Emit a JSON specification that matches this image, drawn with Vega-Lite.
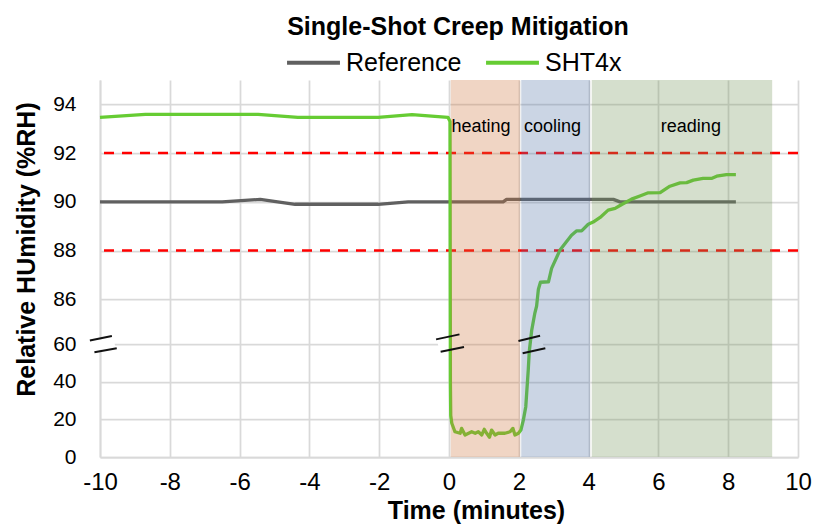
{
  "$schema": "https://vega.github.io/schema/vega-lite/v6.json",
  "width": 698,
  "height": 377,
  "autosize": {"type": "none"},
  "padding": {"left": 100, "top": 80, "right": 16, "bottom": 68},
  "title": {
    "text": "Single-Shot Creep Mitigation",
    "font": "Liberation Sans",
    "fontSize": 25,
    "fontWeight": "bold",
    "color": "#000000",
    "anchor": "middle",
    "baseline": "alphabetic",
    "dx": 9,
    "dy": 34,
    "offset": 8
  },
  "config": {
    "view": {"stroke": null},
    "font": "Liberation Sans",
    "axis": {
      "labelFont": "Liberation Sans",
      "titleFont": "Liberation Sans",
      "labelColor": "#000000",
      "titleColor": "#000000",
      "ticks": false,
      "domainColor": "#d9d9d9",
      "domainWidth": 1.75,
      "gridColor": "#d9d9d9",
      "gridWidth": 1.75,
      "labelOverlap": false,
      "labelFlush": false
    }
  },
  "datasets": {
    "series": [
      {"t": -10, "rh": 90.0, "sensor": "Reference"},
      {"t": -6.5, "rh": 90.0, "sensor": "Reference"},
      {"t": -5.41, "rh": 90.1, "sensor": "Reference"},
      {"t": -4.41, "rh": 89.9, "sensor": "Reference"},
      {"t": -2.03, "rh": 89.9, "sensor": "Reference"},
      {"t": -1.17, "rh": 90.0, "sensor": "Reference"},
      {"t": 1.55, "rh": 90.0, "sensor": "Reference"},
      {"t": 1.65, "rh": 90.1, "sensor": "Reference"},
      {"t": 4.71, "rh": 90.1, "sensor": "Reference"},
      {"t": 4.9, "rh": 90.0, "sensor": "Reference"},
      {"t": 8.22, "rh": 90.0, "sensor": "Reference"},
      {"t": -10, "rh": 93.47, "sensor": "SHT4x"},
      {"t": -8.7, "rh": 93.59, "sensor": "SHT4x"},
      {"t": -5.47, "rh": 93.59, "sensor": "SHT4x"},
      {"t": -4.33, "rh": 93.47, "sensor": "SHT4x"},
      {"t": -2.03, "rh": 93.47, "sensor": "SHT4x"},
      {"t": -1.06, "rh": 93.58, "sensor": "SHT4x"},
      {"t": -0.03, "rh": 93.47, "sensor": "SHT4x"},
      {"t": 0.03, "rh": 93.3, "sensor": "SHT4x"},
      {"t": 0.04, "rh": 40, "sensor": "SHT4x"},
      {"t": 0.05, "rh": 22, "sensor": "SHT4x"},
      {"t": 0.08, "rh": 17.9, "sensor": "SHT4x"},
      {"t": 0.17, "rh": 13.4, "sensor": "SHT4x"},
      {"t": 0.32, "rh": 12.6, "sensor": "SHT4x"},
      {"t": 0.36, "rh": 15.2, "sensor": "SHT4x"},
      {"t": 0.46, "rh": 11.7, "sensor": "SHT4x"},
      {"t": 0.65, "rh": 13.4, "sensor": "SHT4x"},
      {"t": 0.75, "rh": 12.6, "sensor": "SHT4x"},
      {"t": 0.84, "rh": 13.4, "sensor": "SHT4x"},
      {"t": 0.94, "rh": 11.7, "sensor": "SHT4x"},
      {"t": 1.01, "rh": 14.7, "sensor": "SHT4x"},
      {"t": 1.08, "rh": 12.6, "sensor": "SHT4x"},
      {"t": 1.16, "rh": 10.5, "sensor": "SHT4x"},
      {"t": 1.22, "rh": 14.3, "sensor": "SHT4x"},
      {"t": 1.32, "rh": 11.7, "sensor": "SHT4x"},
      {"t": 1.41, "rh": 12.6, "sensor": "SHT4x"},
      {"t": 1.6, "rh": 12.6, "sensor": "SHT4x"},
      {"t": 1.75, "rh": 13.4, "sensor": "SHT4x"},
      {"t": 1.83, "rh": 15.2, "sensor": "SHT4x"},
      {"t": 1.89, "rh": 11.7, "sensor": "SHT4x"},
      {"t": 1.99, "rh": 12.6, "sensor": "SHT4x"},
      {"t": 2.06, "rh": 14.3, "sensor": "SHT4x"},
      {"t": 2.13, "rh": 19.6, "sensor": "SHT4x"},
      {"t": 2.2, "rh": 26.7, "sensor": "SHT4x"},
      {"t": 2.27, "rh": 46, "sensor": "SHT4x"},
      {"t": 2.3, "rh": 56, "sensor": "SHT4x"},
      {"t": 2.37, "rh": 68, "sensor": "SHT4x"},
      {"t": 2.46, "rh": 78, "sensor": "SHT4x"},
      {"t": 2.51, "rh": 82, "sensor": "SHT4x"},
      {"t": 2.56, "rh": 86.4, "sensor": "SHT4x"},
      {"t": 2.62, "rh": 86.7, "sensor": "SHT4x"},
      {"t": 2.85, "rh": 86.72, "sensor": "SHT4x"},
      {"t": 2.94, "rh": 87.27, "sensor": "SHT4x"},
      {"t": 3.18, "rh": 88.02, "sensor": "SHT4x"},
      {"t": 3.51, "rh": 88.63, "sensor": "SHT4x"},
      {"t": 3.66, "rh": 88.81, "sensor": "SHT4x"},
      {"t": 3.8, "rh": 88.81, "sensor": "SHT4x"},
      {"t": 3.99, "rh": 89.08, "sensor": "SHT4x"},
      {"t": 4.13, "rh": 89.17, "sensor": "SHT4x"},
      {"t": 4.33, "rh": 89.36, "sensor": "SHT4x"},
      {"t": 4.56, "rh": 89.66, "sensor": "SHT4x"},
      {"t": 4.76, "rh": 89.73, "sensor": "SHT4x"},
      {"t": 4.95, "rh": 89.89, "sensor": "SHT4x"},
      {"t": 5.23, "rh": 90.11, "sensor": "SHT4x"},
      {"t": 5.47, "rh": 90.24, "sensor": "SHT4x"},
      {"t": 5.71, "rh": 90.37, "sensor": "SHT4x"},
      {"t": 6.05, "rh": 90.38, "sensor": "SHT4x"},
      {"t": 6.33, "rh": 90.64, "sensor": "SHT4x"},
      {"t": 6.62, "rh": 90.78, "sensor": "SHT4x"},
      {"t": 6.81, "rh": 90.79, "sensor": "SHT4x"},
      {"t": 7.0, "rh": 90.89, "sensor": "SHT4x"},
      {"t": 7.28, "rh": 90.96, "sensor": "SHT4x"},
      {"t": 7.52, "rh": 90.96, "sensor": "SHT4x"},
      {"t": 7.67, "rh": 91.05, "sensor": "SHT4x"},
      {"t": 7.95, "rh": 91.12, "sensor": "SHT4x"},
      {"t": 8.22, "rh": 91.12, "sensor": "SHT4x"}
    ],
    "limits": [{"rh": 92}, {"rh": 88}],
    "phases": [
      {"phase": "heating", "start": 0.05, "end": 2.03, "labelT": 0.07},
      {"phase": "cooling", "start": 2.07, "end": 4.04, "labelT": 2.15},
      {"phase": "reading", "start": 4.09, "end": 9.26, "labelT": 6.07}
    ],
    "breakFill": [
      {"t": -10.23, "rh": 58.7, "t2": -9.59, "rh2": 61.1},
      {"t": -0.31, "rh": 59.2, "t2": 0.36, "rh2": 61.9},
      {"t": 2.05, "rh": 58.5, "t2": 2.68, "rh2": 61.2}
    ],
    "breakEdge": [
      {"t": -10.29, "rh": 62.0, "t2": -9.66, "rh2": 64.6},
      {"t": -10.16, "rh": 55.6, "t2": -9.52, "rh2": 57.7},
      {"t": -0.37, "rh": 62.7, "t2": 0.3, "rh2": 65.6},
      {"t": -0.24, "rh": 55.9, "t2": 0.43, "rh2": 58.4},
      {"t": 1.99, "rh": 61.7, "t2": 2.61, "rh2": 64.8},
      {"t": 2.11, "rh": 55.1, "t2": 2.76, "rh2": 57.7}
    ]
  },
  "layer": [
    {
      "data": {"name": "breakFill"},
      "mark": {"type": "rule", "color": "#ffffff", "strokeWidth": 10, "strokeCap": "butt"},
      "encoding": {
        "x": {
          "field": "t", "type": "quantitative",
          "scale": {"domain": [-10, 10], "nice": false, "zero": false},
          "axis": {
            "values": [-10, -8, -6, -4, -2, 0, 2, 4, 6, 8, 10],
            "labelExpr": "'' + datum.value",
            "title": "Time (minutes)",
            "titleFontSize": 25,
            "titleFontWeight": "bold",
            "titleX": 376,
            "titleY": 61,
            "titleBaseline": "alphabetic",
            "titleAlign": "center",
            "labelFontSize": 24,
            "labelPadding": 13
          }
        },
        "x2": {"field": "t2"},
        "y": {
          "field": "rh", "type": "quantitative",
          "scale": {"domain": [0, 60, 86, 95], "range": [377, 264, 219.3, 0], "nice": false, "zero": false},
          "axis": {
            "values": [0, 20, 40, 60, 86, 88, 90, 92, 94],
            "title": "Relative HUmidity (%RH)",
            "titleFontSize": 25,
            "titleFontWeight": "bold",
            "titleX": -66,
            "titleY": 169,
            "titleAngle": -90,
            "titleBaseline": "alphabetic",
            "titleAlign": "center",
            "labelFontSize": 21,
            "labelPadding": 24
          }
        },
        "y2": {"field": "rh2"}
      }
    },
    {
      "data": {"name": "limits"},
      "mark": {"type": "rule", "color": "#ff0000", "strokeWidth": 2.5, "strokeDash": [10, 8]},
      "encoding": {
        "y": {"field": "rh", "type": "quantitative", "scale": {"domain": [0, 60, 86, 95], "range": [377, 264, 219.3, 0], "nice": false, "zero": false}}
      }
    },
    {
      "data": {"name": "series"},
      "mark": {"type": "line", "strokeWidth": 3.3, "strokeJoin": "round"},
      "encoding": {
        "x": {"field": "t", "type": "quantitative", "scale": {"domain": [-10, 10], "nice": false, "zero": false}},
        "y": {"field": "rh", "type": "quantitative", "scale": {"domain": [0, 60, 86, 95], "range": [377, 264, 219.3, 0], "nice": false, "zero": false}},
        "color": {
          "field": "sensor", "type": "nominal",
          "scale": {"domain": ["Reference", "SHT4x"], "range": ["#606060", "#66cc33"]},
          "legend": {
            "title": null,
            "orient": "none",
            "direction": "horizontal",
            "legendX": 185,
            "legendY": -46,
            "symbolType": "stroke",
            "symbolSize": 2800,
            "symbolStrokeWidth": 4,
            "labelFont": "Liberation Sans",
            "labelFontSize": 25,
            "labelColor": "#000000",
            "labelOffset": 4,
            "columnPadding": 16,
            "padding": 0
          }
        }
      }
    },
    {
      "data": {"name": "phases"},
      "mark": {"type": "rect", "opacity": 0.3},
      "encoding": {
        "x": {"field": "start", "type": "quantitative", "scale": {"domain": [-10, 10], "nice": false, "zero": false}},
        "x2": {"field": "end"},
        "y": {"datum": 95, "type": "quantitative", "scale": {"domain": [0, 60, 86, 95], "range": [377, 264, 219.3, 0], "nice": false, "zero": false}},
        "y2": {"datum": 0},
        "fill": {
          "field": "phase", "type": "nominal",
          "scale": {"domain": ["heating", "cooling", "reading"], "range": ["#cd733a", "#5273a5", "#739458"]},
          "legend": null
        }
      }
    },
    {
      "data": {"name": "breakEdge"},
      "mark": {"type": "rule", "color": "#111111", "strokeWidth": 2},
      "encoding": {
        "x": {"field": "t", "type": "quantitative", "scale": {"domain": [-10, 10], "nice": false, "zero": false}},
        "x2": {"field": "t2"},
        "y": {"field": "rh", "type": "quantitative", "scale": {"domain": [0, 60, 86, 95], "range": [377, 264, 219.3, 0], "nice": false, "zero": false}},
        "y2": {"field": "rh2"}
      }
    },
    {
      "data": {"name": "phases"},
      "mark": {"type": "text", "align": "left", "baseline": "alphabetic", "fontSize": 18, "font": "Liberation Sans", "color": "#000000"},
      "encoding": {
        "x": {"field": "labelT", "type": "quantitative", "scale": {"domain": [-10, 10], "nice": false, "zero": false}},
        "y": {"datum": 92.85, "type": "quantitative", "scale": {"domain": [0, 60, 86, 95], "range": [377, 264, 219.3, 0], "nice": false, "zero": false}},
        "text": {"field": "phase"}
      }
    }
  ]
}
